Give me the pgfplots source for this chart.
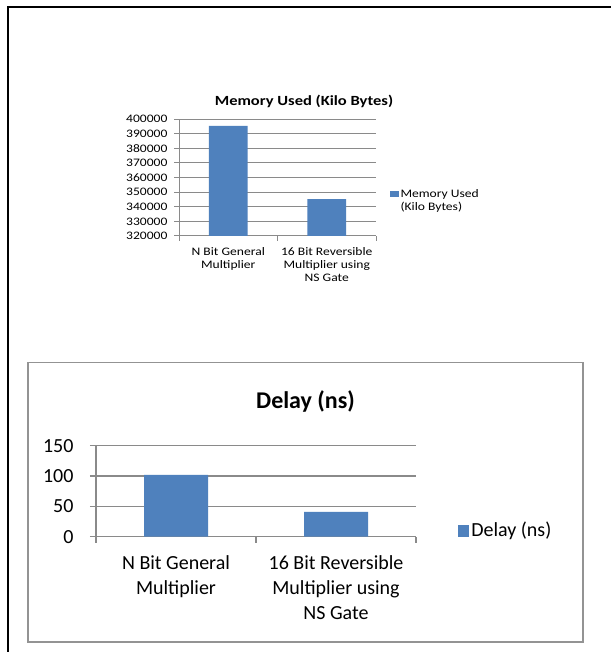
\documentclass[border=0pt]{standalone}
\usepackage{fontspec}
\setmainfont{Carlito}
\newfontfamily\topfont[FakeStretch=1.18]{Carlito}
\usepackage{pgfplots}
\pgfplotsset{compat=1.18}
\definecolor{barblue}{HTML}{4F81BD}
\definecolor{gridgray}{HTML}{8A8A8A}
\definecolor{boxgray}{HTML}{939393}

\pgfplotsset{
  excelbar/.style={
    scale only axis,
    ybar,
    xmin=-0.5, xmax=1.5,
    xtick={-0.5,0.5,1.5}, xticklabels={},
    extra x ticks={0,1},
    extra x tick style={major tick length=0pt, grid=none},
    axis x line*=bottom, axis y line*=left,
    axis line style={gridgray},
    tick style={gridgray},
    tick align=outside,
    ymajorgrids,
    scaled y ticks=false,
    /pgf/number format/assume math mode=true,
    y tick label style={/pgf/number format/fixed, /pgf/number format/1000 sep={}},
    x tick label style={align=center, anchor=north},
    legend style={draw=none, fill=none, inner sep=0pt, cells={anchor=base west}},
  }
}

\begin{document}
\begin{tikzpicture}
\useasboundingbox (0,0) rectangle (611pt,652pt);
\fill[white] (0,0) rectangle (611pt,652pt);
\draw[line width=2.2pt] (7.8pt,0) -- (7.8pt,645pt) -- (611pt,645pt);
\draw[boxgray, line width=1.8pt] (28.3pt,10.3pt) rectangle (582.7pt,289.5pt);

% Memory chart
\begin{axis}[
  excelbar,
  at={(179pt,416pt)}, anchor=south west,
  width=197pt, height=116.8pt,
  bar width=0.395,
  ymin=320000, ymax=400000, ytick distance=10000,
  major tick length=5pt,
  grid style={gridgray, line width=1pt},
  axis line style={line width=1pt},
  tick style={line width=1pt},
  tick label style={font=\topfont\fontsize{11.5pt}{13.3pt}\selectfont},
  y tick label style={xshift=-3pt},
  x tick label style={yshift=-7.5pt},
  extra x tick labels={{N Bit General\\Multiplier},{16 Bit Reversible\\Multiplier using\\NS Gate}},
  title={Memory Used (Kilo Bytes)},
  title style={at={(0.6345,1.07)}, anchor=base, font=\topfont\bfseries\fontsize{14pt}{16pt}\selectfont},
  legend style={at={(1.0675,0.364)}, anchor=west, font=\topfont\fontsize{11.5pt}{13.3pt}\selectfont},
  legend image code/.code={\fill[#1] (0pt,0pt) rectangle (9pt,6.5pt);},
]
\addplot[fill=barblue, draw=none] coordinates {(0,395400) (1,345300)};
\addlegendentry{\begin{tabular}[t]{@{}l@{}}Memory Used\\(Kilo Bytes)\end{tabular}}
\end{axis}

% Delay chart
\begin{axis}[
  excelbar,
  at={(96pt,115.3pt)}, anchor=south west,
  width=320pt, height=91pt,
  bar width=0.4,
  ymin=0, ymax=150, ytick distance=50,
  major tick length=6pt,
  grid style={gridgray, line width=1.6pt},
  axis line style={line width=1.6pt},
  tick style={line width=1.6pt},
  tick label style={font=\fontsize{20pt}{25pt}\selectfont},
  y tick label style={xshift=-13pt},
  x tick label style={yshift=-15pt},
  extra x tick labels={{N Bit General\\Multiplier},{16 Bit Reversible\\Multiplier using\\NS Gate}},
  title={Delay (ns)},
  title style={at={(0.6547,1.346)}, anchor=base, font=\bfseries\fontsize{24pt}{29pt}\selectfont},
  legend style={at={(1.13,0.071)}, anchor=west, font=\fontsize{20pt}{25pt}\selectfont},
  legend image code/.code={\fill[#1] (0pt,0pt) rectangle (11.5pt,11.7pt);},
]
\addplot[fill=barblue, draw=none] coordinates {(0,102) (1,41)};
\addlegendentry{Delay (ns)}
\end{axis}
\end{tikzpicture}
\end{document}
